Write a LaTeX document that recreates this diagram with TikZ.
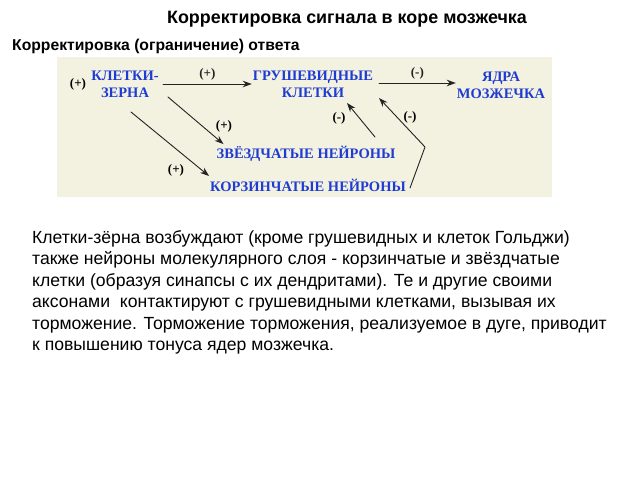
\documentclass[tikz,border=0pt]{standalone}
\usepackage{fontspec}
\setmainfont{Liberation Sans}
\newfontfamily\diagfont{Liberation Serif}
\usetikzlibrary{arrows.meta, calc}
\definecolor{boxbeige}{RGB}{243,241,224}
\definecolor{nodeblue}{RGB}{30,60,210}
\definecolor{linegray}{RGB}{35,35,35}

\tikzset{
  cell/.style={font=\diagfont\bfseries\fontsize{14.5}{17}\selectfont, text=nodeblue, align=center, inner sep=1pt},
  sign/.style={font=\diagfont\bfseries\fontsize{13}{13}\selectfont, inner sep=1pt},
  link/.style={->, linegray, line width=0.9pt},
}

\begin{document}
\begin{tikzpicture}[x=1pt,y=-1pt,>={Stealth[length=9pt,width=6.5pt]}, line cap=round, line join=round]
    \useasboundingbox (0,0) rectangle (640,480);

    % headings
    \node[font=\bfseries\fontsize{17.9}{21}\selectfont] (title) at (347,19) {Корректировка сигнала в коре мозжечка};
    \node[anchor=west, font=\bfseries\fontsize{15.7}{18}\selectfont, inner sep=0pt] (subtitle) at (12,46) {Корректировка (ограничение) ответа};

    % beige panel
    \fill[boxbeige] (57,57) rectangle (552,197);

    % cells
    \node[cell] (zerna) at (125,84) {КЛЕТКИ-\\ЗЕРНА};
    \node[cell] (grush) at (313,84) {ГРУШЕВИДНЫЕ\\КЛЕТКИ};
    \node[cell] (yadra) at (501,85) {ЯДРА\\МОЗЖЕЧКА};
    \node[cell] (zvezd) at (306,154) {ЗВЁЗДЧАТЫЕ НЕЙРОНЫ};
    \node[cell] (korz) at (308,185) {КОРЗИНЧАТЫЕ НЕЙРОНЫ};
    \node[sign] (zin) at (78,84) {(+)};

    % excitation
    \coordinate (z1) at (163,84);
    \draw[link] (z1) -- (grush.west |- z1)
      node[sign, midway, above=2pt] (p1) {(+)};
    \coordinate (g0) at (379,83);
    \draw[link] (g0) -- (yadra.west |- g0)
      node[sign, midway, above=2pt] (m1) {(-)};
    \coordinate (z2) at (168,97);
    \draw[link] (z2) -- ($(zvezd.north west)+(8,-1)$);
    \coordinate (z3) at (131,112);
    \draw[link] (z3) -- ($(korz.west)+(0,-9)$);
    \node[sign] (p2) at (224,126) {(+)};
    \node[sign] (p3) at (176,170) {(+)};

    % inhibition
    \coordinate (s1) at (375,137);
    \coordinate (g1) at (347,103);
    \draw[link] (s1) -- (g1);
    \node[sign] (m2) at (339,118) {(-)};
    \coordinate (k1) at (410,188);
    \coordinate (k2) at (425,147);
    \coordinate (g2) at (379,98);
    \draw[link] (k1) -- (k2) -- (g2);
    \node[sign] (m3) at (410,117) {(-)};

    % text
    \node[anchor=north west, align=left, inner sep=0pt, font=\fontsize{17.6}{21.5}\selectfont] (body) at (32,230)
      {Клетки-зёрна возбуждают (кроме грушевидных и клеток Гольджи)\\
       также нейроны молекулярного слоя - корзинчатые и звёздчатые\\
       клетки (образуя синапсы с их дендритами). Те и другие своими\\
       аксонами\ \ контактируют с грушевидными клетками, вызывая их\\
       торможение. Торможение торможения, реализуемое в дуге, приводит\\
       к повышению тонуса ядер мозжечка.};
\end{tikzpicture}
\end{document}
